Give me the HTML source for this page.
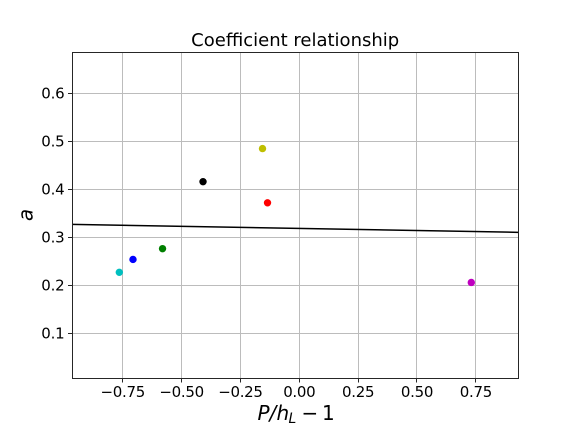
<!DOCTYPE html>
<html lang="en">
<head>
<meta charset="utf-8">
<title>Coefficient relationship</title>
<style>
html,body{margin:0;padding:0;background:#fff;}
svg{display:block;}
text{font-family:"DejaVu Sans",sans-serif;fill:#000;}
</style>
</head>
<body>
<svg id="chart" xmlns="http://www.w3.org/2000/svg" width="576" height="432" viewBox="0 0 576 432"></svg>
<script>
const xTicks = [-0.75, -0.5, -0.25, 0, 0.25, 0.5, 0.75];
const xTickLabels = ['\u22120.75', '\u22120.50', '\u22120.25', '0.00', '0.25', '0.50', '0.75'];
const yTicks = [0.1, 0.2, 0.3, 0.4, 0.5, 0.6];
const yTickLabels = ['0.1', '0.2', '0.3', '0.4', '0.5', '0.6'];
const pointX = [-0.7646, -0.7065, -0.581, -0.409, -0.1563, -0.135, 0.7307];
const pointY = [0.2277, 0.2545, 0.277, 0.4165, 0.4855, 0.3725, 0.2065];
const pointColors = ['#00bfbf', '#0000ff', '#007f00', '#000000', '#bfbf00', '#ff0000', '#bf00bf'];
const pointNames = ['point-cyan', 'point-blue', 'point-green', 'point-black', 'point-yellow', 'point-red', 'point-magenta'];
const lineX = [-0.9656, 0.9308];
const lineY = [0.3275, 0.3110];
const xDomain = [-0.9656, 0.9308];
const yDomain = [0.0075, 0.6867];

const plot = { left: 72, right: 518.4, top: 52, bottom: 378 };
const NS = 'http://www.w3.org/2000/svg';
const svg = document.getElementById('chart');
const gridColor = '#bcbcbc';
const spineColor = '#262626';

function sx(v) { return plot.left + (v - xDomain[0]) / (xDomain[1] - xDomain[0]) * (plot.right - plot.left); }
function sy(v) { return plot.bottom - (v - yDomain[0]) / (yDomain[1] - yDomain[0]) * (plot.bottom - plot.top); }
function snap(p) { return Math.floor(p) + 0.5; }
function make(tag, attrs, parent) {
  const el = document.createElementNS(NS, tag);
  for (const k in attrs) el.setAttribute(k, attrs[k]);
  (parent || svg).appendChild(el);
  return el;
}

xTicks.forEach(function (t, i) {
  const x = snap(sx(t));
  const grid = make('line', { x1: x, x2: x, y1: 52, y2: 378, stroke: gridColor, 'stroke-width': 1 });
  
  
  const tick = make('line', { x1: x, x2: x, y1: 378, y2: 382.5, stroke: spineColor, 'stroke-width': 1 });
  
  
  const label = make('text', { x: sx(t), y: 397, 'font-size': 15, 'text-anchor': 'middle', 'letter-spacing': -0.3 });
  label.textContent = xTickLabels[i];
  
  
});

yTicks.forEach(function (t, i) {
  const y = snap(sy(t));
  const grid = make('line', { x1: 72, x2: 518, y1: y, y2: y, stroke: gridColor, 'stroke-width': 1 });
  
  
  const tick = make('line', { x1: 68, x2: 72, y1: y, y2: y, stroke: spineColor, 'stroke-width': 1 });
  
  
  const label = make('text', { x: 64.5, y: y + 5.2, 'font-size': 15, 'text-anchor': 'end', 'letter-spacing': -0.2 });
  label.textContent = yTickLabels[i];
  
  
});

const fit = make('line', { x1: sx(lineX[0]), y1: sy(lineY[0]), x2: sx(lineX[1]), y2: sy(lineY[1]), stroke: '#000', 'stroke-width': 1.5 });



pointX.forEach(function (v, i) {
  const dot = make('circle', { cx: sx(v), cy: sy(pointY[i]), r: 3.7, fill: pointColors[i] });
  
  
});

const frame = make('rect', { x: 72.5, y: 52.5, width: 446, height: 326, fill: 'none', stroke: spineColor, 'stroke-width': 1 });



const title = make('text', { x: 295.2, y: 46, 'font-size': 18, 'text-anchor': 'middle' });
title.textContent = 'Coefficient relationship';



const xTitle = make('text', { x: 257.5, y: 420, 'font-size': 20 });


const p1 = make('tspan', { x: 257.5, 'font-style': 'italic' }, xTitle);
p1.textContent = 'P';
const p2 = make('tspan', { x: 269.5, 'font-style': 'italic' }, xTitle);
p2.textContent = '/';
const p3 = make('tspan', { x: 276.5, 'font-style': 'italic' }, xTitle);
p3.textContent = 'h';
const p4 = make('tspan', { x: 288.5, 'font-style': 'italic', 'font-size': 14, dy: 3 }, xTitle);
p4.textContent = 'L';
const p5 = make('tspan', { x: 301.5, dy: -3 }, xTitle);
p5.textContent = '\u2212';
const p6 = make('tspan', { x: 322 }, xTitle);
p6.textContent = '1';

const yTitle = make('text', { x: 0, y: 0, 'font-size': 20, 'font-style': 'italic', 'text-anchor': 'middle', transform: 'translate(32.5 215) rotate(-90)' });
yTitle.textContent = 'a';


</script>
</body>
</html>
